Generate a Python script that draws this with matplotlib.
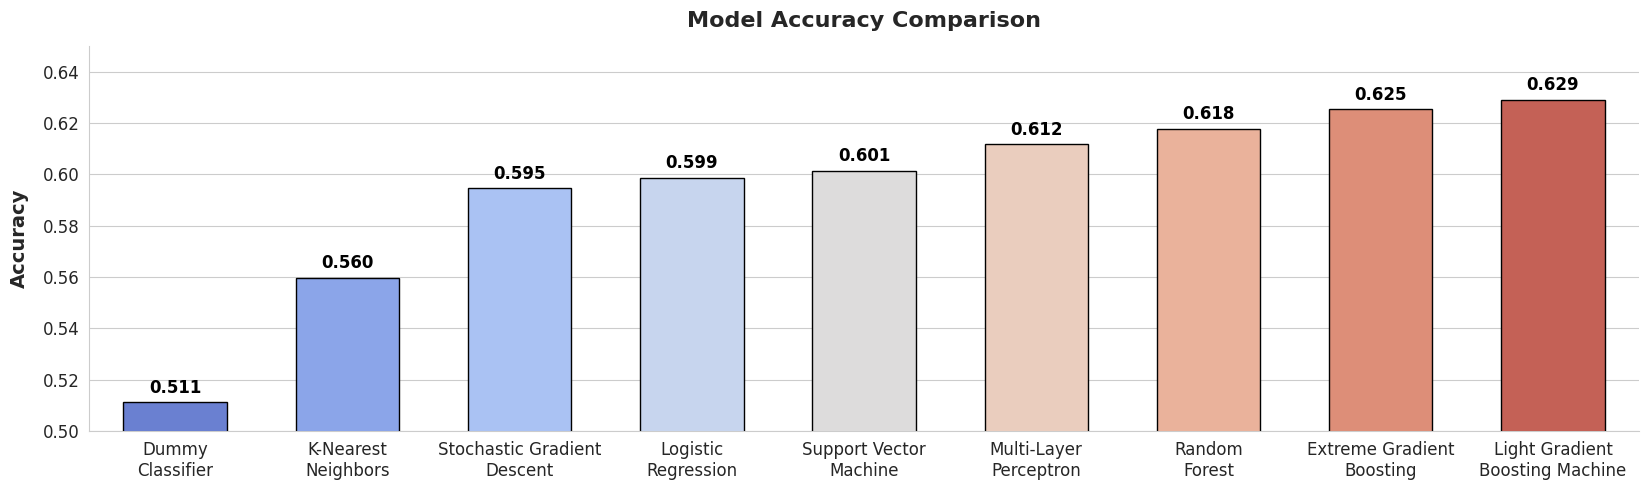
import numpy as np
import matplotlib
matplotlib.use("Agg")
import matplotlib.pyplot as plt
import seaborn as sns

models = ["Dummy\nClassifier", "K-Nearest\nNeighbors", "Stochastic Gradient\nDescent",
          "Logistic\nRegression", "Support Vector\nMachine", "Multi-Layer\nPerceptron",
          "Random\nForest", "Extreme Gradient\nBoosting", "Light Gradient\nBoosting Machine"]
accuracy = [0.5112, 0.5598, 0.5946, 0.5988, 0.6014, 0.6118, 0.6178, 0.6253, 0.6291]

sns.set_style("whitegrid")
plt.rcParams['font.family'] = ['DejaVu Sans']

# seaborn barplot style muted colours
colors = [sns.desaturate(c, 0.75) for c in sns.color_palette("coolwarm", len(models))]

fig, ax = plt.subplots(figsize=(16.49, 4.9), dpi=100)
x = np.arange(len(models))
bars = ax.bar(x, accuracy, width=0.6, color=colors, edgecolor="black", linewidth=1, zorder=3)

for b, v in zip(bars, accuracy):
    ax.annotate(f"{v:.3f}", (b.get_x() + b.get_width() / 2, v), xytext=(0, 4),
                textcoords="offset points", ha="center", va="bottom",
                fontsize=12, fontweight="bold", color="black")

ax.set_xticks(x)
ax.set_xticklabels(models, fontsize=12)
ax.tick_params(axis="y", labelsize=12)
ax.set_ylim(0.50, 0.65)
ax.set_xlim(-0.5, len(models) - 0.5)
ax.set_ylabel("Accuracy", fontsize=14, fontweight="bold", labelpad=10)
ax.set_title("Model Accuracy Comparison", fontsize=16, fontweight="bold", pad=13.5)
ax.grid(axis="x", visible=False)
sns.despine(ax=ax)

plt.subplots_adjust(left=0.054, right=0.994, top=0.906, bottom=0.120)
plt.savefig("out.png", dpi=100)
